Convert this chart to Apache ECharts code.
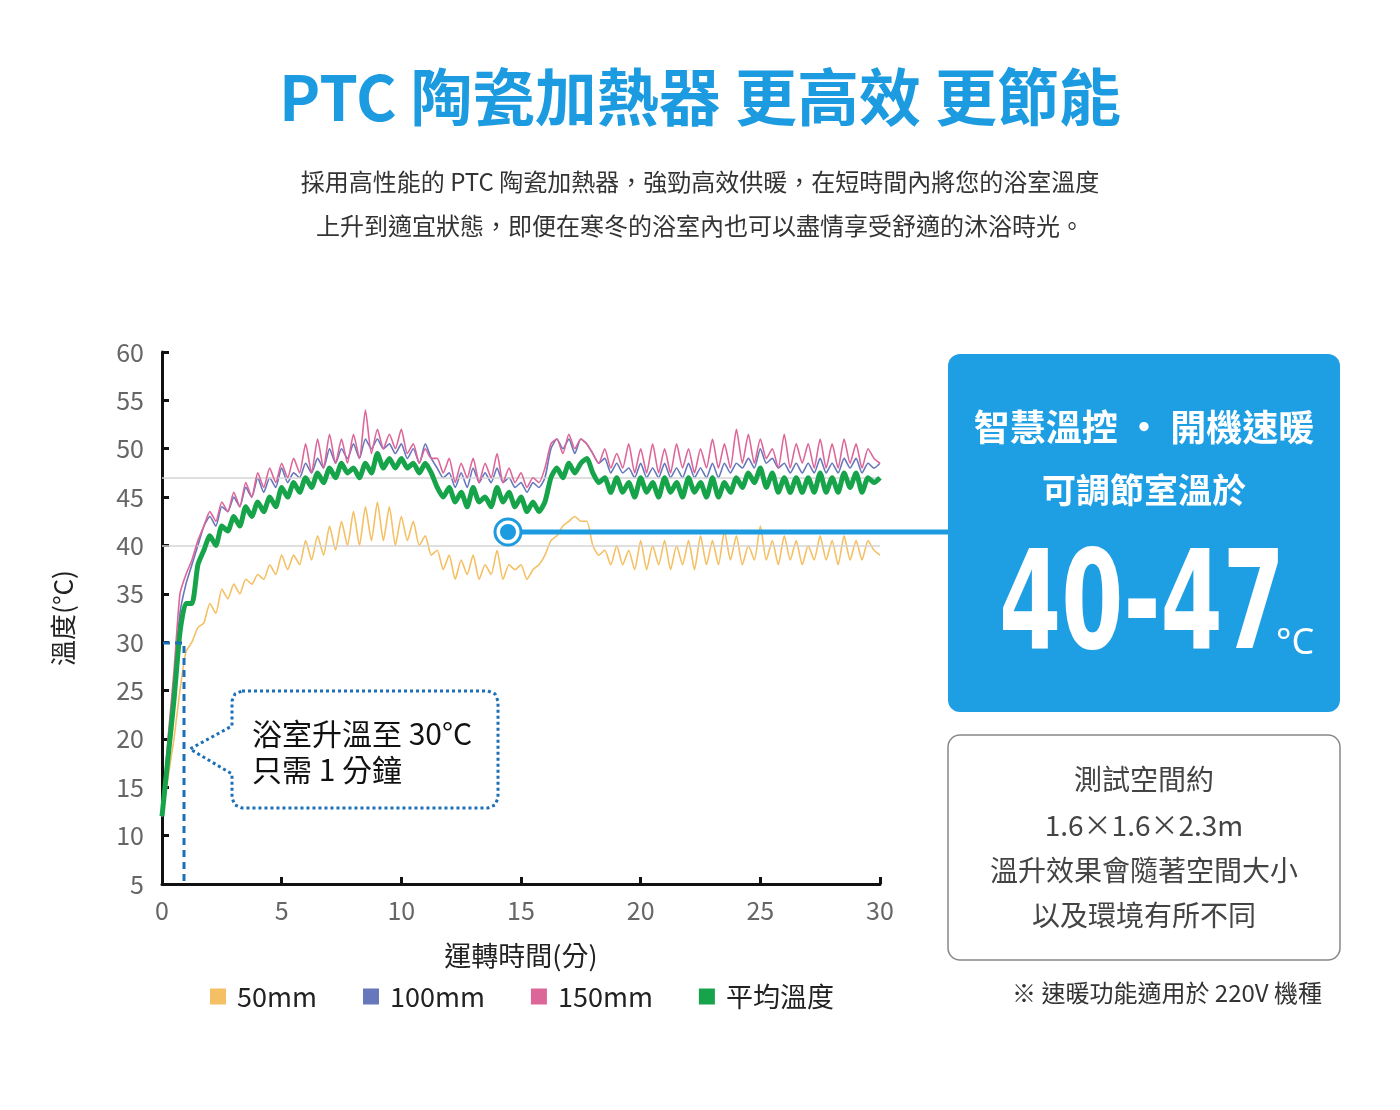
<!DOCTYPE html>
<html><head><meta charset="utf-8">
<script src="https://cdn.jsdelivr.net/npm/echarts@6/dist/echarts.min.js"></script>
<style>html,body{margin:0;padding:0;background:#fff}#c{width:1400px;height:1110px}</style>
</head><body><div id="c"></div>
<script>
const times = [];
for (let i = 0; i <= 120; i++) times.push(i * 0.25);
const yellow50 = [12,16,20,25,29,30,31.5,32,34,33,35.5,34.5,
36,35,36.5,36,37,36.5,38,37,39,37.5,39,38,
40.5,38.5,41,39,42,39.5,42.5,40,43.5,40,44,40.5,
44.5,40.5,44,40,43,40.5,42.5,40,41,39,39.5,37.5,
39,36.5,38.5,37,39,36.5,38,37,39.5,36.5,38,37.5,
38,36.5,37.5,38,39,40.5,41,42,42.5,43,42.5,42.5,
40,39,39.5,38,40,38,39.5,37.5,40.5,37.5,40,38,
40.5,37.5,40,38,40.5,37.5,41,38,40.5,38,41.5,38.5,
41,38,40,38.5,42,38.5,40.5,38,41,38.5,40.5,38,
40,38.5,41,38.5,40.5,38,41,38.5,40.5,38.5,40.5,39.5,39];
const blue100 = [12,19,26,33,36,38,40,42,43,42,44,43.5,
45,44,46,45,47,45.5,47,46,48,46.5,47.5,47,
48.5,47.5,49,48,50,48.5,50,49,50.5,49,51,50,
51,50,50.5,49.5,50.5,49,50,48.5,50.5,49,48,47,
47.5,46,47.5,46,48,46.5,47.5,46.5,48,46.5,47,46,
46.5,45.5,46.5,46,47,50,51,50,51,49.5,51,50.5,
49.5,48.5,49,47.5,48.5,47.5,48,47,48.5,47,48,47,
48.5,47,48,47,48.5,47,48,47,48.5,47,48.5,47.5,
48.5,48,49,48,50,48.5,49,48,48.5,47.5,48.5,47.5,
48.5,47.5,49,47.5,48.5,47.5,49,48,49,47.5,48.5,48,48.5];
const pink150 = [12,20,27,35,37,38.5,40.5,42,43.5,42.5,44.5,43.5,
45.5,44,46.5,45,47.5,46,48,46.5,48.5,47,49,47.5,
50.5,47.5,51,48,51.5,48.5,51,48.5,51.5,49,54,49.5,
52,50,51.5,50,52,49.5,50.5,48.5,50,49,49,47.5,
49,46.5,48.5,47,49,46.5,48.5,47,49.5,46.5,48,46.5,
47.5,46,47,46.5,48,50.5,51,49.5,51.5,50,51,50.5,
49.5,48.5,50,48,49.5,48,50.5,47.5,50,47.5,50.5,47.5,
50,47.5,50.5,48,50,47.5,50,48,51,48,50.5,48,
52,48.5,51.5,48.5,51,49,50,48,51.5,48,50.5,48.5,
50.5,48,51,48,50.5,48,51,48.5,50.5,48,50,49,48.5];
const greenAvg = [12,18,24,31,34,34,38,39.5,41,40,42,41.5,
43,42,44,43,44.5,43.5,45,44,46,45,46.5,45.5,
47,46,47.5,46.5,48,47,48.5,47.5,48,47,48.5,47.5,
49.5,48,49,48,49,48,48.5,47.5,48.5,47.5,46,45,
46,44.5,45.5,44,46,44.5,45,44,46,44.5,45.5,44,
45,43.5,44.5,43.5,44.5,47,48,47,48.5,47.5,48.5,49,
47.5,46.5,47,45.5,47,45.5,46.5,45,47,45.5,46.5,45,
47,45.5,46.5,45,47,45.5,46.5,45,47,45,46.5,45.5,
47,46,47.5,46.5,48,46,47.5,45.5,47,45.5,47,45.5,
47,45.5,47.5,45.5,47,45.5,47.5,46,47.5,45.5,47,46.5,47];
const seriesNames = ['50mm','100mm','150mm','平均溫度'];
const colors = ['#f5bf63','#6677bb','#dd6699','#16a34a'];

const F = '"Noto Sans CJK TC","Noto Sans",sans-serif';
const pair = arr => arr.map((v,i)=>[times[i],v]);
const chart = echarts.init(document.getElementById('c'));
const mk = (name, data, color, w, z) => ({name, type:'line', data: pair(data), symbol:'none', smooth:0.2, z,
  lineStyle:{color, width:w}, itemStyle:{color}});
const s0 = mk(seriesNames[0], yellow50, colors[0], 1.6, 3);
s0.markLine = {silent:true, symbol:'none', label:{show:false}, lineStyle:{color:'#d4d4d4', width:1.5, type:'solid'},
  data:[{yAxis:40},{yAxis:47}]};
const T = (x, y, text, font, fill, align, extra) => Object.assign({type:'text', z:21, x, y,
  style:{text, font, fill, align: align || 'center', verticalAlign:'middle'}}, extra || {});
chart.setOption({
  animation:false,
  backgroundColor:'#fff',
  grid:{left:162, right:520, top:352, bottom:226},
  legend:{bottom:95, left:205, itemGap:46, itemWidth:16, itemHeight:16, icon:'rect',
    textStyle:{fontSize:27, color:'#222', fontFamily:F, padding:[0,0,0,6]},
    data:seriesNames},
  xAxis:{type:'value', min:0, max:30, interval:5,
    name:'運轉時間(分)', nameLocation:'middle', nameGap:58,
    nameTextStyle:{fontSize:27, color:'#222', fontFamily:F},
    axisLine:{lineStyle:{color:'#111', width:3}},
    axisTick:{length:7, inside:true, lineStyle:{color:'#111', width:3}},
    axisLabel:{fontSize:25, color:'#666', fontFamily:F, margin:14},
    splitLine:{show:false}},
  yAxis:{type:'value', min:5, max:60, interval:5,
    name:'溫度(°C)', nameLocation:'middle', nameGap:86, nameRotate:90,
    nameTextStyle:{fontSize:26, color:'#222', fontFamily:F},
    axisLine:{show:true, lineStyle:{color:'#111', width:3}},
    axisTick:{show:true, length:7, inside:true, lineStyle:{color:'#111', width:3}},
    axisLabel:{fontSize:25, color:'#666', fontFamily:F, margin:18},
    splitLine:{show:false}},
  series:[s0,
    mk(seriesNames[1], blue100, colors[1], 1.6, 4),
    mk(seriesNames[2], pink150, colors[2], 1.6, 5),
    mk(seriesNames[3], greenAvg, colors[3], 5, 6)],
  graphic:[
    T(700, 97, 'PTC 陶瓷加熱器 更高效 更節能', 'bold 62px '+F, '#1c9be0'),
    T(700, 182, '採用高性能的 PTC 陶瓷加熱器，強勁高效供暖，在短時間內將您的浴室溫度', '24px '+F, '#333'),
    T(700, 226, '上升到適宜狀態，即便在寒冬的浴室內也可以盡情享受舒適的沐浴時光。', '24px '+F, '#333'),
    {type:'line', z:20, shape:{x1:520, y1:532, x2:950, y2:532}, style:{stroke:'#1c9be0', lineWidth:5}},
    {type:'circle', z:21, shape:{cx:508, cy:532, r:13}, style:{fill:'#fff', stroke:'#1c9be0', lineWidth:3}},
    {type:'circle', z:22, shape:{cx:508, cy:532, r:8}, style:{fill:'#1c9be0'}},
    {type:'rect', z:20, shape:{x:948, y:354, width:392, height:358, r:12}, style:{fill:'#1e9fe4'}},
    T(1144, 427, '智慧溫控 · 開機速暖', 'bold 36px '+F, '#fff'),
    T(1144, 490, '可調節室溫於', 'bold 34px '+F, '#fff'),
    T(1142, 612, '40-47', 'bold 138px "DejaVu Sans Condensed","Liberation Sans Narrow",sans-serif', '#fff', 'center',
      {scaleX:0.72}),
    {type:'text', z:21, x:1276, y:626, style:{text:'°C', font:'36px "Noto Sans",sans-serif', fill:'#fff'}},
    {type:'rect', z:20, shape:{x:948, y:735, width:392, height:225, r:12}, style:{fill:'#fff', stroke:'#888', lineWidth:1.5}},
    T(1144, 779, '測試空間約', '28px '+F, '#444'),
    T(1144, 825, '1.6×1.6×2.3m', '28px '+F, '#444'),
    T(1144, 870, '溫升效果會隨著空間大小', '28px '+F, '#444'),
    T(1144, 915, '以及環境有所不同', '28px '+F, '#444'),
    T(1322, 993, '※ 速暖功能適用於 220V 機種', '24px '+F, '#333', 'right'),
    {type:'polyline', z:20, shape:{points:[[163,643],[184,643],[184,882]]}, style:{stroke:'#1d6fb8', lineWidth:3, lineDash:[7,5], fill:null}},
    {type:'polygon', z:20, shape:{points:[[242,691],[488,691],[495,694],[498,701],[498,798],[495,805],[488,808],
      [242,808],[235,805],[232,798],[232,774],[190,749],[232,726],[232,701],[235,694]]},
      style:{fill:'#fff', stroke:'#1d6fb8', lineWidth:3, lineDash:[3,3]}},
    T(252, 734, '浴室升溫至 30°C', '30px '+F, '#111', 'left'),
    T(252, 770, '只需 1 分鐘', '30px '+F, '#111', 'left')
  ]
});
</script></body></html>
